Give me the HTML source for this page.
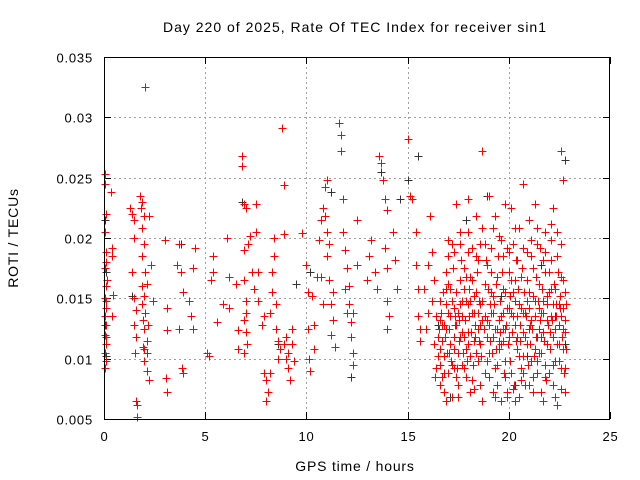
<!DOCTYPE html>
<html><head><meta charset="utf-8"><style>
body{margin:0;background:#fff;}
svg{display:block;font-family:"Liberation Sans",sans-serif;}
</style></head><body>
<svg id="chart" width="640" height="480" viewBox="0 0 640 480">
<rect x="0" y="0" width="640" height="480" fill="#fff"/>
<text x="355" y="32" font-size="14" letter-spacing="1" text-anchor="middle">Day 220 of 2025, Rate Of TEC Index for receiver sin1</text>
<text x="355" y="471" font-size="14" letter-spacing="0.8" text-anchor="middle">GPS time / hours</text>
<text transform="translate(18,238) rotate(-90)" font-size="14" letter-spacing="0.8" text-anchor="middle">ROTI / TECUs</text>
<g id="grid"></g>
<g id="ticks"></g>
<g id="marks-black" shape-rendering="crispEdges"></g>
<g id="marks-red" shape-rendering="crispEdges"></g>
<rect x="104.5" y="57.5" width="505" height="362" fill="none" stroke="#000" stroke-width="1" shape-rendering="crispEdges"/>
</svg>
<script>
const xTicks=[0,5,10,15,20,25];
const yTicks=[0.005,0.01,0.015,0.02,0.025,0.03,0.035];
const yTickLabels=["0.005","0.01","0.015","0.02","0.025","0.03","0.035"];
const redPoints=[
[0.05,0.0245],[0.05,0.0253],[0.08,0.022],[0.05,0.0205],[0.1,0.018],[0.05,0.0175],[0.1,0.016],[0.05,0.015],[0.1,0.0142],[0.05,0.0135],[0.1,0.0128],[0.05,0.012],[0.1,0.0112],[0.05,0.0105],[0.1,0.0098],[0.05,0.0092],[0.15,0.0165],[0.35,0.0238],[0.4,0.0192],[0.4,0.0185],[0.45,0.0153],[0.4,0.0135],
[1.3,0.0225],[1.4,0.022],[1.5,0.0215],[1.5,0.02],[1.4,0.0172],[1.5,0.015],[1.6,0.014],[1.5,0.0128],[1.6,0.0118],[1.55,0.0105],[1.6,0.0065],[1.65,0.0052],[1.65,0.0062],[1.8,0.0235],[1.9,0.023],[2.0,0.0218],[1.9,0.0208],[2.0,0.0195],[1.9,0.0185],[2.05,0.0172],[1.9,0.016],[2.0,0.0152],[1.9,0.0145],[2.05,0.0138],[2.0,0.0125],[2.1,0.0115],[1.95,0.011],[2.1,0.0105],[2.0,0.0098],[2.1,0.009],[2.2,0.0082],[2.05,0.0325],[2.2,0.0218],[2.3,0.0178],[2.4,0.0148],
[3.0,0.0198],[3.1,0.0142],[3.1,0.0124],[3.05,0.0084],[3.1,0.0072],[3.6,0.0178],[3.7,0.0195],[3.8,0.0172],[3.9,0.0155],[3.7,0.0125],[3.85,0.0092],[3.9,0.0088],[4.2,0.0148],[4.3,0.0135],[4.4,0.0125],[4.5,0.0192],[4.4,0.0175],
[5.1,0.0105],[5.2,0.0102],[5.3,0.0165],[5.4,0.0185],[5.4,0.0172],[5.6,0.013],[5.9,0.0145],[6.1,0.02],[6.2,0.0168],[6.2,0.0142],[6.5,0.0162],[6.6,0.0124],[6.6,0.0108],
[6.8,0.0268],[6.8,0.026],[6.9,0.0228],[7.0,0.0225],[6.9,0.019],[6.9,0.0165],[7.0,0.0148],[6.9,0.0132],[7.0,0.0122],[7.05,0.0112],[6.9,0.0105],[7.1,0.0195],[7.2,0.0202],[7.3,0.0172],[7.4,0.0158],[7.5,0.0228],[7.5,0.0205],[7.6,0.0172],[7.6,0.0148],
[7.9,0.0135],[7.9,0.0088],[8.0,0.0082],[8.0,0.0065],[8.1,0.0072],[8.2,0.0088],[8.2,0.0138],[8.3,0.0155],[8.3,0.0172],[8.4,0.0185],[8.4,0.02],[8.5,0.0125],[8.6,0.0115],[8.7,0.0108],[8.8,0.0291],[8.9,0.0244],[8.9,0.0203],[9.0,0.0118],[9.0,0.01],[9.1,0.0092],[9.2,0.0082],[9.3,0.0112],[9.3,0.0125],[9.4,0.0098],[8.6,0.01],
[9.8,0.0204],[10.0,0.0178],[10.1,0.0155],[10.1,0.0125],[10.15,0.01],[10.2,0.009],[10.3,0.0152],[10.4,0.0108],[10.5,0.0168],[10.6,0.0198],[10.7,0.0215],[10.8,0.0225],[10.9,0.0242],[10.9,0.0218],[11.0,0.0205],[11.0,0.0185],[11.1,0.0165],[11.2,0.0145],[11.3,0.0132],[11.2,0.012],[11.4,0.011],[11.0,0.0248],
[11.6,0.0295],[11.7,0.0285],[11.7,0.0272],[11.8,0.0232],[11.8,0.0205],[11.9,0.019],[12.0,0.0175],[12.1,0.016],[12.1,0.0145],[12.2,0.013],[12.2,0.0118],[12.3,0.0105],[12.3,0.0095],[12.5,0.0215],[12.5,0.0178],
[13.0,0.0165],[13.1,0.0185],[13.2,0.0198],[13.4,0.0172],[13.5,0.0158],[13.6,0.0268],[13.7,0.0262],[13.8,0.0248],[13.9,0.0232],[14.0,0.0223],[13.9,0.0192],[14.0,0.0175],[14.0,0.0148],[14.1,0.0135],[14.0,0.0125],[14.3,0.0205],[14.4,0.0182],[14.5,0.0158],
[15.0,0.0282],[15.1,0.0235],[15.2,0.0232],[15.4,0.0205],[15.4,0.0178],[15.5,0.0158],[15.5,0.0135],[15.6,0.0125],[15.6,0.0115],[15.8,0.0158],[16.0,0.0178],[16.1,0.0218],[16.2,0.0188],[16.0,0.0138],
[16.4,0.0092],[16.5,0.0118],[16.6,0.0132],[16.6,0.0148],[16.7,0.0085],[16.8,0.0072],[16.8,0.0102],[16.9,0.0125],[16.9,0.0172],[17.0,0.0198],[17.0,0.0185],[17.1,0.0158],[17.1,0.0112],[17.2,0.0095],[17.2,0.0068],[17.3,0.0142],[17.3,0.0188],[17.4,0.0228],[17.4,0.0128],[17.5,0.0105],[17.5,0.0078],[17.6,0.0165],[17.6,0.0195],[17.7,0.0135],[17.7,0.0095],[17.8,0.0118],[17.8,0.0175],[17.9,0.0085],[17.9,0.0148],[18.0,0.0232],[18.0,0.0205],[18.0,0.0122],
[18.1,0.0102],[18.1,0.0168],[18.2,0.0192],[18.2,0.0138],[18.3,0.0075],[18.3,0.0115],[18.4,0.0155],[18.4,0.0218],[18.5,0.0182],[18.5,0.0098],[18.6,0.0128],[18.6,0.0145],[18.7,0.0272],[18.7,0.0208],[18.8,0.0088],[18.8,0.0162],[18.9,0.0118],[18.9,0.0178],[19.0,0.0235],[19.0,0.0105],[19.1,0.0138],[19.1,0.0192],[19.2,0.0072],[19.2,0.0152],[19.3,0.0218],[19.3,0.0125],[19.4,0.0095],[19.4,0.0168],[19.5,0.0202],[19.5,0.0132],[19.6,0.0065],[19.6,0.0112],[19.7,0.0158],[19.7,0.0185],[19.8,0.0228],[19.8,0.0098],
[19.9,0.0142],[19.9,0.0068],[20.0,0.0172],[20.0,0.0118],[20.1,0.0225],[20.1,0.0088],[20.2,0.0155],[20.2,0.0195],[20.3,0.0128],[20.3,0.0065],[20.4,0.0108],[20.4,0.0182],[20.5,0.0145],[20.5,0.0208],[20.6,0.0092],[20.6,0.0168],[20.7,0.0245],[20.7,0.0122],[20.8,0.0138],[20.8,0.0078],[20.9,0.0188],[20.9,0.0112],[21.0,0.0155],[21.0,0.0215],[21.1,0.0098],[21.1,0.0132],[21.2,0.0175],[21.2,0.0085],[21.3,0.0148],[21.3,0.0228],[21.4,0.0118],[21.4,0.0195],
[21.5,0.0105],[21.5,0.0162],[21.6,0.0138],[21.6,0.0072],[21.7,0.0182],[21.7,0.0122],[21.8,0.0205],[21.8,0.0095],[21.9,0.0152],[21.9,0.0112],[22.0,0.0172],[22.0,0.0088],[22.1,0.0135],[22.1,0.0198],[22.2,0.0225],[22.2,0.0118],[22.3,0.0158],[22.3,0.0098],[22.4,0.0185],[22.4,0.0062],[22.5,0.0145],[22.5,0.0128],[22.6,0.0272],[22.6,0.0168],[22.6,0.0075],[22.7,0.0248],[22.7,0.0108],[22.7,0.0142],[22.8,0.0122],[22.8,0.0092],[22.8,0.0155],
[16.6,0.0108],[17.0,0.0138],[17.3,0.0092],[17.6,0.0118],[18.0,0.0145],[18.3,0.0138],[18.6,0.0112],[18.9,0.0132],[19.2,0.0118],[19.5,0.0115],[19.8,0.0125],[20.1,0.0138],[20.4,0.0135],[20.7,0.0102],[21.0,0.0125],[21.3,0.0108],[21.6,0.0118],[21.9,0.0132],[22.2,0.0145],[22.5,0.0112],[22.1,0.0158],[21.5,0.0142],[20.9,0.0148],[20.3,0.0165],[19.7,0.0138],[19.1,0.0155],[18.5,0.0125],[17.9,0.0108],[17.3,0.0118],[16.8,0.0128]
];
const denseRedPoints=[
[16.5,0.0102],[16.55,0.0125],[16.6,0.0095],[16.65,0.0138],[16.7,0.0115],[16.75,0.0155],[16.8,0.0088],[16.85,0.0118],[16.9,0.0145],[16.95,0.0105],[17.0,0.0162],[17.05,0.0125],[17.1,0.0135],[17.15,0.0098],[17.2,0.0148],[17.25,0.0175],[17.3,0.0108],[17.35,0.0128],[17.4,0.0155],[17.45,0.0092],[17.5,0.0138],[17.55,0.0115],[17.6,0.0145],[17.65,0.0182],[17.7,0.0122],[17.75,0.0105],[17.8,0.0158],[17.85,0.0132],[17.9,0.0168],[17.95,0.0098],
[18.0,0.0112],[18.05,0.0135],[18.1,0.0148],[18.15,0.0122],[18.2,0.0165],[18.25,0.0095],[18.3,0.0152],[18.35,0.0128],[18.4,0.0105],[18.45,0.0172],[18.5,0.0138],[18.55,0.0115],[18.6,0.0195],[18.65,0.0102],[18.7,0.0148],[18.75,0.0125],[18.8,0.0135],[18.85,0.0182],[18.9,0.0098],[18.95,0.0158],[19.0,0.0128],[19.05,0.0115],[19.1,0.0172],[19.15,0.0105],[19.2,0.0138],[19.25,0.0145],[19.3,0.0092],[19.35,0.0162],[19.4,0.0125],[19.45,0.0185],
[19.5,0.0108],[19.55,0.0148],[19.6,0.0135],[19.65,0.0172],[19.7,0.0115],[19.75,0.0088],[19.8,0.0155],[19.85,0.0128],[19.9,0.0192],[19.95,0.0112],[20.0,0.0142],[20.05,0.0098],[20.1,0.0165],[20.15,0.0122],[20.2,0.0135],[20.25,0.0078],[20.3,0.0148],[20.35,0.0182],[20.4,0.0118],[20.45,0.0158],[20.5,0.0102],[20.55,0.0128],[20.6,0.0142],[20.65,0.0175],[20.7,0.0088],[20.75,0.0155],[20.8,0.0118],[20.85,0.0135],[20.9,0.0165],[20.95,0.0095],
[21.0,0.0142],[21.05,0.0112],[21.1,0.0185],[21.15,0.0125],[21.2,0.0152],[21.25,0.0102],[21.3,0.0135],[21.35,0.0168],[21.4,0.0088],[21.45,0.0148],[21.5,0.0125],[21.55,0.0192],[21.6,0.0105],[21.65,0.0158],[21.7,0.0138],[21.75,0.0115],[21.8,0.0172],[21.85,0.0082],[21.9,0.0145],[21.95,0.0128],[22.0,0.0155],[22.05,0.0108],[22.1,0.0182],[22.15,0.0132],[22.2,0.0095],[22.25,0.0162],[22.3,0.0125],[22.35,0.0145],[22.4,0.0112],[22.45,0.0172],
[22.5,0.0098],[22.55,0.0152],[22.6,0.0135],[22.65,0.0118],[22.7,0.0165],[22.75,0.0088],[22.8,0.0132],[22.85,0.0108],[22.85,0.0145],[22.6,0.0195],[22.4,0.0205],[22.1,0.0212],[21.8,0.0188],[21.4,0.0208],[21.1,0.0198],[20.7,0.0192],[20.3,0.0208],[20.0,0.0188],[19.6,0.0198],[19.2,0.0208],[18.8,0.0195],[18.4,0.0185],[18.0,0.0188],[17.6,0.0205],[17.2,0.0195],[16.9,0.0158],
[16.6,0.0078],[17.0,0.0088],[17.4,0.0085],[17.8,0.0092],[18.2,0.0082],[18.6,0.0078],[19.0,0.0085],[19.4,0.0078],[19.8,0.0085],[20.2,0.0075],[20.6,0.0082],[21.0,0.0078],[21.4,0.0098],[21.8,0.0085],[22.2,0.0078],[22.6,0.0092],[22.8,0.0072],[22.3,0.0068],[21.7,0.0065],[21.2,0.0072],[20.5,0.0068],[19.9,0.0072],[19.3,0.0068],[18.7,0.0065],[18.1,0.0072],[17.5,0.0068],[16.9,0.0065],
[16.7,0.0128],[17.05,0.0105],[17.35,0.0135],[17.7,0.0148],[18.05,0.0158],[18.35,0.0118],[18.7,0.0132],[19.05,0.0145],[19.35,0.0108],[19.7,0.0125],[20.05,0.0152],[20.35,0.0115],[20.7,0.0138],[21.05,0.0128],[21.35,0.0118],[21.7,0.0148],[22.05,0.0122],[22.35,0.0135],[22.7,0.0125],[20.55,0.0115],[19.55,0.0122],[18.55,0.0148],[17.55,0.0132],[21.55,0.0132],[22.55,0.0142],
[15.9,0.0125],[16.2,0.0148],[16.3,0.0112],[16.4,0.0135],[16.3,0.0165],[16.35,0.0085],
[0.08,0.0188],[0.12,0.0148],[0.08,0.0118],[1.85,0.0225],[2.1,0.0162],[2.15,0.0128],[1.95,0.0132],[2.0,0.0108],[7.0,0.0138],[7.8,0.0128],[8.5,0.0145],[8.9,0.0112],[9.1,0.0105],[10.7,0.0168],[10.8,0.0145],[11.1,0.0195],[11.3,0.0155],[11.9,0.0158],[12.0,0.0138],[10.4,0.0128],[12.3,0.0138]
];
const blackPoints=[
[0.05,0.0215],[0.1,0.0172],[0.05,0.0128],[0.1,0.0102],[1.4,0.0152],[3.8,0.0195],[6.8,0.023],[8.6,0.0112],[9.5,0.0162],[10.2,0.0172],[11.2,0.0238],[12.2,0.0085],[13.7,0.0255],[14.6,0.0232],[15.0,0.0248],[15.5,0.0268],[16.5,0.0128],[17.1,0.0068],[17.9,0.0215],[18.9,0.0235],[19.6,0.0152],[20.3,0.0078],[20.9,0.0102],[21.6,0.0178],[22.3,0.0135],[22.8,0.0265],[22.8,0.0112]
];
const X0=104,X1=610,Y0=419,Y1=57;
function sx(v){return X0+(v-0)/(25-0)*(X1-X0);}
function sy(v){return Y0-(v-0.005)/(0.035-0.005)*(Y0-Y1);}
const NS="http://www.w3.org/2000/svg";
function el(tag,attrs,parent){const e=document.createElementNS(NS,tag);for(const k in attrs)e.setAttribute(k,attrs[k]);parent.appendChild(e);return e;}
const grid=document.getElementById('grid'),ticks=document.getElementById('ticks');
xTicks.forEach(t=>{const x=Math.round(sx(t))+0.5;
 if(t>0&&t<25){const g=el('line',{x1:x,x2:x,y1:Y0,y2:Y1,stroke:'#a0a0a0','stroke-dasharray':'2,3'},grid);}
 el('line',{x1:x,x2:x,y1:Y0,y2:Y0-7,stroke:'#000'},ticks);el('line',{x1:x,x2:x,y1:Y1,y2:Y1+7,stroke:'#000'},ticks);
 const tx=el('text',{x:x,y:Y0+22,'font-size':13,'letter-spacing':0.8,'text-anchor':'middle'},ticks);tx.textContent=t;
 
 });
yTicks.forEach((t,i)=>{const y=Math.round(sy(t))+0.5;
 if(i>0&&i<yTicks.length-1){const g=el('line',{x1:X0,x2:X1,y1:y,y2:y,stroke:'#a0a0a0','stroke-dasharray':'2,3'},grid);}
 el('line',{x1:X0,x2:X0+7,y1:y,y2:y,stroke:'#000'},ticks);el('line',{x1:X1,x2:X1-7,y1:y,y2:y,stroke:'#000'},ticks);
 const tx=el('text',{x:X0-11,y:y+5,'font-size':13,'letter-spacing':0.8,'text-anchor':'end'},ticks);tx.textContent=yTickLabels[i];
 
 });
function plus(p,col,parent){const x=Math.round(sx(p[0]))+0.5,y=Math.round(sy(p[1]))+0.5;
 const pth=el('path',{d:`M${x-4},${y}H${x+4}M${x},${y-4}V${y+4}`,stroke:col,'stroke-width':1,fill:'none'},parent);
 
 }
blackPoints.forEach(p=>plus(p,'#333333',document.getElementById('marks-black')));
redPoints.forEach(p=>plus(p,'#ff0000',document.getElementById('marks-red')));
denseRedPoints.forEach(p=>plus(p,'#ff0000',document.getElementById('marks-red')));
</script>
</body></html>
